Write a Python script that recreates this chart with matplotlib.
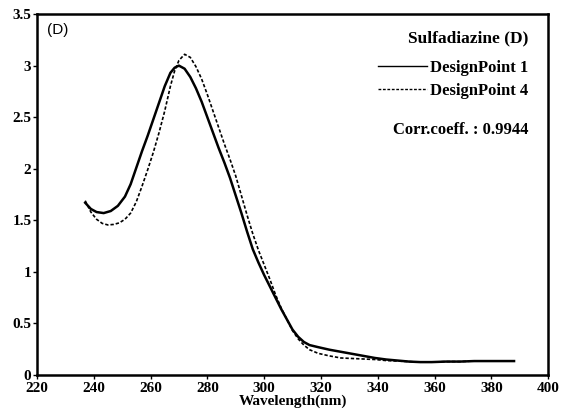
import numpy as np
import matplotlib.pyplot as plt

# wavelength (nm) / absorbance
wl_dp1 = [237, 239, 241, 243.5, 246, 248.5, 251, 253, 255, 257, 259, 261, 263, 265, 267, 268.5, 270,
          272, 274, 276, 278, 280, 282, 284, 286, 288, 290, 292, 294, 296, 298, 300, 302, 304,
          306, 308, 310, 312, 314, 316, 319, 323, 327, 331, 335, 339, 343, 347, 351, 355, 359,
          364, 369, 374, 379, 384, 388]
abs_dp1 = [1.67, 1.61, 1.58, 1.57, 1.59, 1.64, 1.73, 1.85, 2.01, 2.17, 2.32, 2.48, 2.64, 2.80, 2.93,
           2.98, 3.00, 2.97, 2.89, 2.78, 2.65, 2.50, 2.35, 2.20, 2.06, 1.91, 1.74, 1.57, 1.39, 1.22,
           1.09, 0.97, 0.86, 0.75, 0.64, 0.54, 0.44, 0.37, 0.32, 0.29, 0.27, 0.245, 0.225, 0.205,
           0.185, 0.165, 0.15, 0.14, 0.13, 0.125, 0.125, 0.13, 0.13, 0.135, 0.135, 0.135, 0.135]

wl_dp4 = [237, 239, 241, 243, 245, 247, 249, 251, 253, 255, 257, 259, 261, 263, 265, 267, 268.5, 270,
          272, 274, 276, 278, 280, 282, 284, 286, 288, 290, 292, 294, 296, 298, 300, 302, 304,
          306, 308, 310, 312, 314, 316, 319, 323, 327, 331, 335, 339, 343, 347, 351, 355, 359,
          364, 369, 374, 379, 384, 388]
abs_dp4 = [1.69, 1.58, 1.51, 1.47, 1.455, 1.46, 1.475, 1.51, 1.57, 1.68, 1.83, 1.99, 2.16, 2.35,
           2.56, 2.80, 2.95, 3.05, 3.11, 3.08, 2.99, 2.87, 2.72, 2.56, 2.40, 2.24, 2.09, 1.93, 1.74,
           1.55, 1.37, 1.21, 1.07, 0.93, 0.78, 0.65, 0.54, 0.43, 0.35, 0.29, 0.245, 0.21, 0.185,
           0.165, 0.16, 0.155, 0.15, 0.14, 0.135, 0.13, 0.125, 0.125, 0.13, 0.13, 0.135, 0.135,
           0.135, 0.135]

xticks = [220, 240, 260, 280, 300, 320, 340, 360, 380, 400]
yticks = [0, 0.5, 1, 1.5, 2, 2.5, 3, 3.5]
ytick_labels = ['0', '0.5', '1', '1.5', '2', '2.5', '3', '3.5']

plt.rcParams['font.family'] = ['Liberation Serif', 'DejaVu Serif']

fig = plt.figure(figsize=(5.68, 4.16), dpi=100)
ax = fig.add_axes([0.065, 0.0986, 0.9, 0.8676])

ax.plot(wl_dp1, abs_dp1, color='black', lw=1.8, label='DesignPoint 1')
ax.plot(wl_dp4, abs_dp4, color='black', lw=1.2, dashes=(2, 1.2), label='DesignPoint 4')

ax.set_xlim(220, 400)
ax.set_ylim(0, 3.5)
ax.set_xticks(xticks)
ax.set_yticks(yticks)
ax.set_yticklabels(ytick_labels)
for lab in ax.get_xticklabels() + ax.get_yticklabels():
    lab.set_fontweight('bold')
    lab.set_fontsize(11)
ax.tick_params(direction='out', length=3, width=1, pad=1)
ax.tick_params(axis='x', pad=2)

for s in ax.spines.values():
    s.set_linewidth(1.8)

ax.set_xlabel('Wavelength(nm)', fontsize=11, fontweight='bold', labelpad=0)

ax.text(0.02, 0.975, '(D)', transform=ax.transAxes, fontsize=11,
        family='Liberation Sans', va='top', ha='left')

# legend block, top right
ax.text(0.961, 0.933, 'Sulfadiazine (D)', transform=ax.transAxes, fontsize=12.5,
        fontweight='bold', ha='right', va='center')
leg = ax.legend(loc='upper right', bbox_to_anchor=(0.974, 0.892), borderaxespad=0,
                frameon=False, handlelength=2.9, handletextpad=0.2, labelspacing=0.45,
                prop={'weight': 'bold', 'size': 12})
for h in leg.get_lines():
    h.set_linewidth(1.0)

ax.text(0.961, 0.679, 'Corr.coeff. : 0.9944', transform=ax.transAxes, fontsize=12,
        fontweight='bold', ha='right', va='center')

fig.savefig('out.png', dpi=100)
